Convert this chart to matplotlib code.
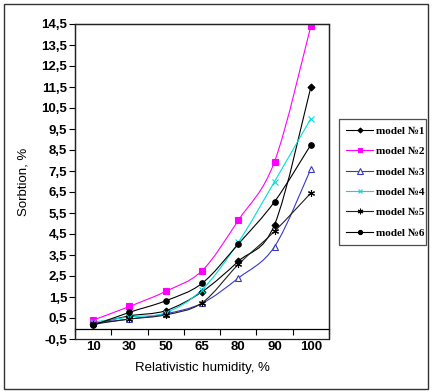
import numpy as np
import matplotlib
matplotlib.use("Agg")
import matplotlib.pyplot as plt
from matplotlib.path import Path
from matplotlib.patches import PathPatch, Rectangle
from matplotlib.lines import Line2D

# Data (sorbtion, % vs relative humidity, %)
humidity = ["10", "30", "50", "65", "80", "90", "100"]
model1 = [0.20, 0.60, 0.85, 1.75, 3.20, 4.95, 11.50]
model2 = [0.40, 1.05, 1.77, 2.75, 5.15, 7.95, 14.40]
model3 = [0.25, 0.45, 0.70, 1.20, 2.40, 3.90, 7.60]
model4 = [0.30, 0.55, 0.75, 1.85, 4.10, 7.00, 10.00]
model5 = [0.20, 0.45, 0.65, 1.22, 3.05, 4.63, 6.45]
model6 = [0.15, 0.77, 1.32, 2.15, 4.02, 6.04, 8.75]
labels = ["model №1", "model №2", "model №3", "model №4", "model №5", "model №6"]
y_ticks = np.arange(-0.5, 15.0, 1.0)

series = [model1, model2, model3, model4, model5, model6]
styles = [
    dict(color="black", marker="D", ms=3.5, mfc="black", mec="black"),
    dict(color="#FF00FF", marker="s", ms=4.5, mfc="#FF00FF", mec="#FF00FF"),
    dict(color="#3838C8", marker="^", ms=5, mfc="#FFFFCC", mec="#3838C8"),
    dict(color="#00DDDD", marker="x", ms=4, mfc="#00DDDD", mec="#00DDDD"),
    dict(color="#202020", marker=(6, 2, 0), ms=5, mfc="black", mec="black"),
    dict(color="black", marker="o", ms=4, mfc="black", mec="black"),
]


def smooth_path(xs, ys):
    # Catmull-Rom style bezier, roughly what Excel's "smoothed line" does
    pts = np.column_stack([xs, ys]).astype(float)
    n = len(pts)
    verts = [pts[0]]
    codes = [Path.MOVETO]
    for i in range(n - 1):
        p0 = pts[max(i - 1, 0)]
        p1 = pts[i]
        p2 = pts[i + 1]
        p3 = pts[min(i + 2, n - 1)]
        c1 = p1 + (p2 - p0) / 6.0
        c2 = p2 - (p3 - p1) / 6.0
        verts += [c1, c2, p2]
        codes += [Path.CURVE4] * 3
    return Path(verts, codes)


fig = plt.figure(figsize=(4.32, 3.91), dpi=100)
ax = fig.add_axes([75 / 432, 1 - 339 / 391, (329 - 75) / 432, (339 - 24) / 391])

x = np.arange(len(humidity))
handles = []
for ys, st, lab in zip(series, styles, labels):
    ax.add_patch(PathPatch(smooth_path(x, ys), fill=False, ec=st["color"], lw=0.8, zorder=2))
    ax.plot(x, ys, ls="none", marker=st["marker"], ms=st["ms"], mfc=st["mfc"],
            mec=st["mec"], mew=0.8, zorder=3)
    handles.append(Line2D([], [], color=st["color"], lw=0.8, marker=st["marker"],
                          ms=st["ms"] - 1, mfc=st["mfc"], mec=st["mec"], mew=0.8, label=lab))

ax.set_xlim(-0.5, len(humidity) - 0.5)
ax.set_ylim(-0.5, 14.5)

# category axis sits at y = 0, plot area keeps a full border
ax.spines["bottom"].set_position(("data", 0))
ax.spines["bottom"].set_linewidth(0.9)
for s in ["left", "top", "right"]:
    ax.spines[s].set_linewidth(0.9)
    ax.spines[s].set_color("#222222")
ax.add_patch(Rectangle((0, 0), 1, 1, transform=ax.transAxes, fill=False,
                       ec="#222222", lw=0.9, clip_on=False, zorder=5))

ax.set_xticks(np.arange(-0.5, len(humidity), 1.0))
ax.set_xticklabels([])
ax.tick_params(axis="x", which="major", direction="out", length=4, width=0.8)
ax.set_xticks(x, minor=True)
ax.set_xticklabels(humidity, minor=True, fontsize=9.5, fontweight="bold",
                   family="Liberation Sans")
ax.tick_params(axis="x", which="minor", length=0, pad=9)

ax.set_yticks(y_ticks)
ax.set_yticklabels([f"{v:.1f}".replace(".", ",") for v in y_ticks],
                   fontsize=9.5, fontweight="bold", family="Liberation Sans")
ax.tick_params(axis="y", direction="out", length=4, width=0.8, pad=1.5)

fig.text(24 / 432, 1 - 182 / 391, "Sorbtion, %", rotation=90, ha="center", va="center",
         fontsize=9.5, family="Liberation Sans")
fig.text(202 / 432, 1 - 368 / 391, "Relativistic humidity, %", ha="center", va="center",
         fontsize=9.5, family="Liberation Sans")

leg = fig.legend(handles=handles, loc="upper left",
                 bbox_to_anchor=(339 / 432, 1 - 243 / 391, 87 / 432, 124 / 391),
                 mode="expand", borderaxespad=0, fancybox=False, frameon=True,
                 prop=dict(family="Liberation Serif", weight="bold", size=8),
                 handlelength=2.4, handletextpad=0.25, labelspacing=0.95,
                 borderpad=0.65)
leg.get_frame().set_edgecolor("#222222")
leg.get_frame().set_linewidth(0.9)

fig.add_artist(Rectangle((4 / 432, 1 - 389 / 391), 424 / 432, 385 / 391,
                         transform=fig.transFigure, fill=False, ec="#333333", lw=1))

fig.savefig("out.png", dpi=100)
